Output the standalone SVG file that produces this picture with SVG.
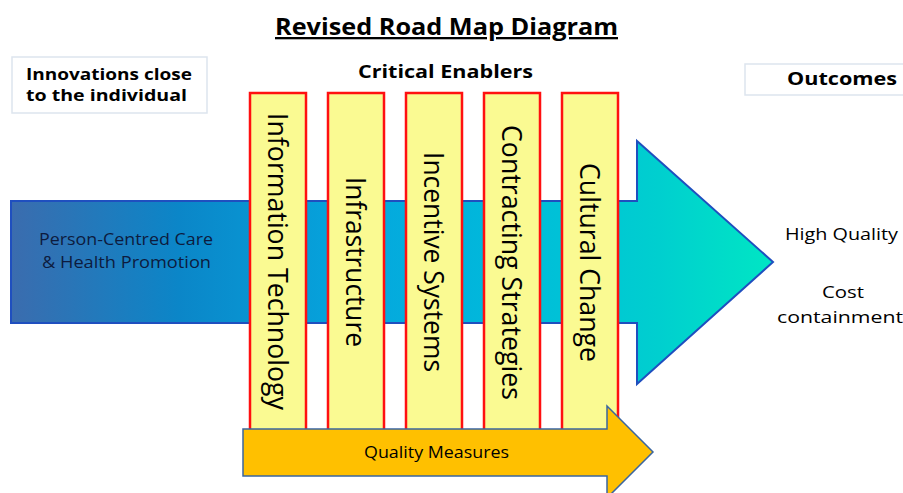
<svg xmlns="http://www.w3.org/2000/svg" width="903" height="493" viewBox="0 0 903 493">
  <defs>
    <linearGradient id="blueGrad" gradientUnits="userSpaceOnUse" x1="11" y1="0" x2="773" y2="0">
      <stop offset="0" stop-color="#3b6cae"/>
      <stop offset="0.22" stop-color="#0b86c8"/>
      <stop offset="0.45" stop-color="#05a6de"/>
      <stop offset="0.65" stop-color="#00badb"/>
      <stop offset="0.85" stop-color="#00cfcf"/>
      <stop offset="1" stop-color="#00e6c4"/>
    </linearGradient>
    <style>
      text { font-family: "Open Sans", "Liberation Sans", sans-serif; fill: #000; }
      .title { font-size: 23px; font-weight: bold; text-decoration: underline; }
      .head { font-size: 18px; font-weight: bold; }
      .head2 { font-size: 15.5px; font-weight: bold; }
      .label { font-size: 16px; }
      .dark { fill: #0d1b3e; }
      .bar rect { fill: #fafa92; stroke: #ff1010; stroke-width: 2.5; }
      .bar text { font-size: 28px; }
      .hdrbox { fill: #ffffff; stroke: #dde5ee; stroke-width: 1.5; }
    </style>
  </defs>

  <g id="title">
    <text class="title" x="446.5" y="35" text-anchor="middle" textLength="343" lengthAdjust="spacingAndGlyphs">Revised Road Map Diagram</text>
  </g>

  <g id="innovations">
    <rect class="hdrbox" x="12" y="57" width="195" height="56"/>
    <text class="head2" x="109" y="80" text-anchor="middle" textLength="166" lengthAdjust="spacingAndGlyphs">Innovations close</text>
    <text class="head2" x="106.5" y="101" text-anchor="middle" textLength="161" lengthAdjust="spacingAndGlyphs">to the individual</text>
  </g>

  <g id="critical-enablers">
    <text class="head" x="445.5" y="78" text-anchor="middle" textLength="175" lengthAdjust="spacingAndGlyphs">Critical Enablers</text>
  </g>

  <g id="outcomes">
    <rect class="hdrbox" x="745" y="64" width="170" height="31"/>
    <text class="head" x="842" y="85" text-anchor="middle" textLength="110" lengthAdjust="spacingAndGlyphs">Outcomes</text>
  </g>

  <g id="main-arrow">
    <polygon points="11,201 637,201 637,141 773,262 637,384 637,323 11,323" fill="url(#blueGrad)" stroke="#1f4fbf" stroke-width="2"/>
    <text class="label dark" x="126" y="245" text-anchor="middle" textLength="174" lengthAdjust="spacingAndGlyphs">Person-Centred Care</text>
    <text class="label dark" x="126.5" y="268" text-anchor="middle" textLength="169" lengthAdjust="spacingAndGlyphs">&amp; Health Promotion</text>
  </g>

  <g id="bar-information-technology" class="bar">
    <rect x="250" y="93" width="56" height="340"/>
    <text transform="translate(268,261.5) rotate(90)" text-anchor="middle" textLength="297" lengthAdjust="spacingAndGlyphs">Information Technology</text>
  </g>
  <g id="bar-infrastructure" class="bar">
    <rect x="328" y="93" width="56" height="340"/>
    <text transform="translate(346,262) rotate(90)" text-anchor="middle" textLength="170" lengthAdjust="spacingAndGlyphs">Infrastructure</text>
  </g>
  <g id="bar-incentive-systems" class="bar">
    <rect x="406" y="93" width="56" height="340"/>
    <text transform="translate(424,262) rotate(90)" text-anchor="middle" textLength="220" lengthAdjust="spacingAndGlyphs">Incentive Systems</text>
  </g>
  <g id="bar-contracting-strategies" class="bar">
    <rect x="484" y="93" width="56" height="340"/>
    <text transform="translate(502,262.5) rotate(90)" text-anchor="middle" textLength="275" lengthAdjust="spacingAndGlyphs">Contracting Strategies</text>
  </g>
  <g id="bar-cultural-change" class="bar">
    <rect x="562" y="93" width="56" height="340"/>
    <text transform="translate(580,262.5) rotate(90)" text-anchor="middle" textLength="199" lengthAdjust="spacingAndGlyphs">Cultural Change</text>
  </g>

  <g id="quality-measures">
    <polygon points="243,429 607,429 607,406 653,452 607,498 607,476 243,476" fill="#ffc000" stroke="#3a65a0" stroke-width="1.5"/>
    <text class="label" x="436.5" y="458" text-anchor="middle" textLength="145" lengthAdjust="spacingAndGlyphs">Quality Measures</text>
  </g>

  <g id="outcome-high-quality">
    <text class="label" x="841.5" y="240" text-anchor="middle" textLength="113" lengthAdjust="spacingAndGlyphs">High Quality</text>
  </g>
  <g id="outcome-cost-containment">
    <text class="label" x="843" y="298" text-anchor="middle" textLength="42" lengthAdjust="spacingAndGlyphs">Cost</text>
    <text class="label" x="840" y="323" text-anchor="middle" textLength="126" lengthAdjust="spacingAndGlyphs">containment</text>
  </g>

  <g id="connectors"></g>
</svg>
